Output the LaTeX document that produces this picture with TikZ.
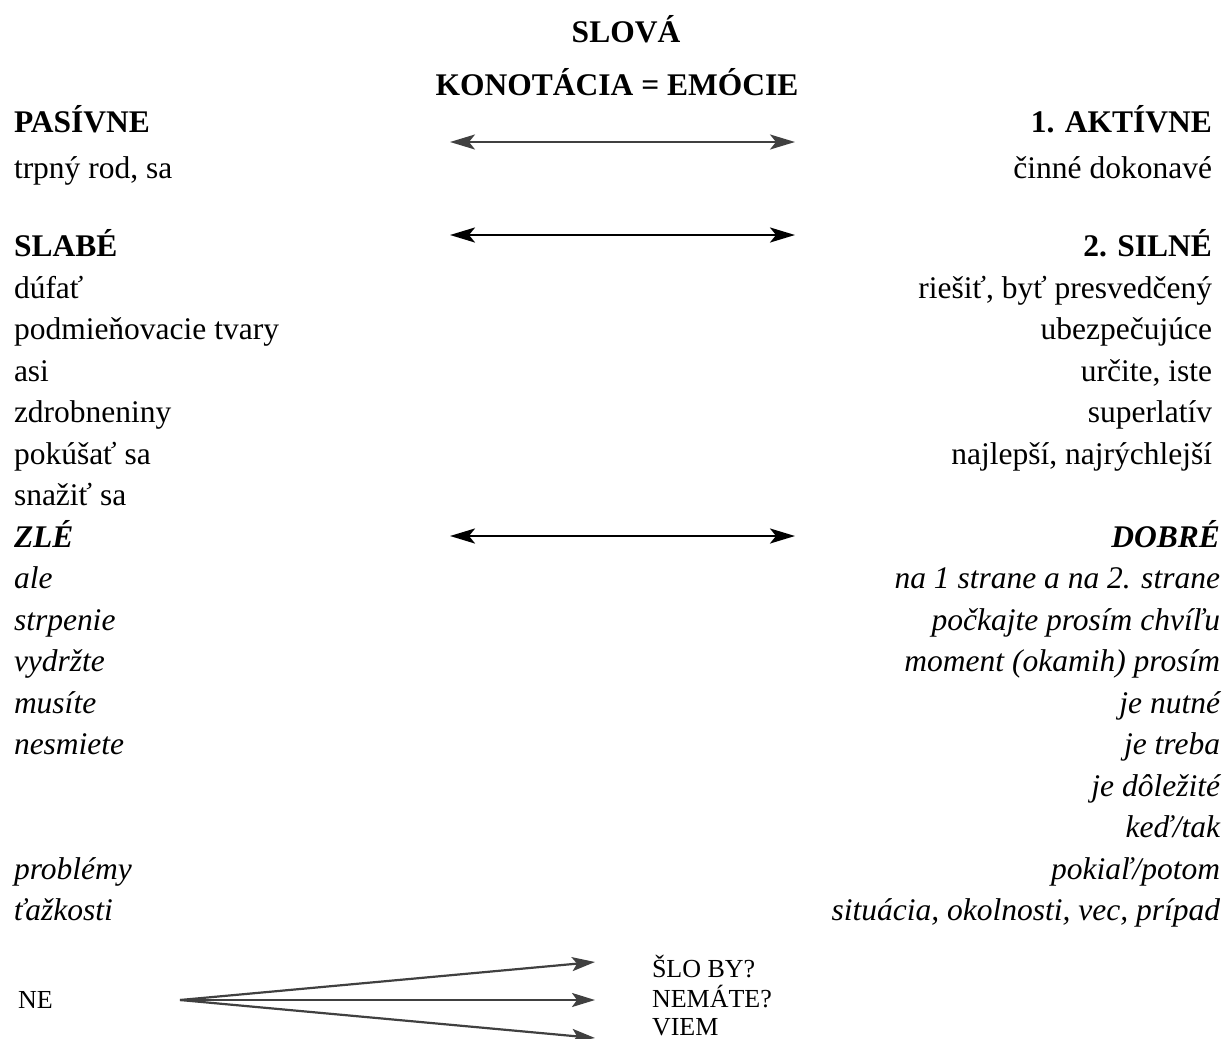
\documentclass[tikz,border=0pt]{standalone}
\usepackage{fontspec}
\setmainfont{Liberation Serif}
\usetikzlibrary{arrows.meta}
\definecolor{arrgray}{HTML}{404040}
\begin{document}
\begin{tikzpicture}[x=1pt,y=-1pt,
  txt/.style={inner sep=0pt, outer sep=0pt, font=\fontsize{31.5}{36}\selectfont},
  txtb/.style={inner sep=0pt, outer sep=0pt, font=\fontsize{31.5}{36}\selectfont\bfseries},
  txti/.style={inner sep=0pt, outer sep=0pt, font=\fontsize{31.5}{36}\selectfont\itshape},
  txtbi/.style={inner sep=0pt, outer sep=0pt, font=\fontsize{31.5}{36}\selectfont\bfseries\itshape},
  small/.style={inner sep=0pt, outer sep=0pt, font=\fontsize{26}{30}\selectfont, anchor=base west},
  lft/.style={anchor=base west},
  rgt/.style={anchor=base east},
  dblgray/.style={line width=2.2pt, draw=arrgray, {Stealth[length=25pt,width=15pt,inset=6pt]}-{Stealth[length=25pt,width=15pt,inset=6pt]}},
  dblblack/.style={line width=2.6pt, draw=black, {Stealth[length=25pt,width=15pt,inset=6pt]}-{Stealth[length=25pt,width=15pt,inset=6pt]}},
  fanarrow/.style={line width=2.2pt, draw=arrgray, -{Stealth[length=23pt,width=14pt,inset=5pt]}}
]
\useasboundingbox (0,0) rectangle (1227,1039);

% titles
\node[txtb, anchor=base] (title1) at (626,42) {SLOVÁ};
\node[txtb, anchor=base] (title2) at (617,95) {KONOTÁCIA = EMÓCIE};

% row 1
\node[txtb, lft] (pas) at (14,132) {PASÍVNE};
\node[txtb, rgt] (akt) at (1212,132) {1. AKTÍVNE};
\node[txt, lft] (pas1) at (14,178) {trpný rod, sa};
\node[txt, rgt] (akt1) at (1212,178) {činné dokonavé};

% row 2
\node[txtb, lft] (sla) at (14,256.5) {SLABÉ};
\node[txtb, rgt] (sil) at (1212,256.5) {2. SILNÉ};
\node[txt, lft] (sla1) at (14,298) {dúfať};
\node[txt, rgt] (sil1) at (1212,298) {riešiť, byť presvedčený};
\node[txt, lft] (sla2) at (14,339.5) {podmieňovacie tvary};
\node[txt, rgt] (sil2) at (1212,339.5) {ubezpečujúce};
\node[txt, lft] (sla3) at (14,381) {asi};
\node[txt, rgt] (sil3) at (1212,381) {určite, iste};
\node[txt, lft] (sla4) at (14,422.5) {zdrobneniny};
\node[txt, rgt] (sil4) at (1212,422.5) {superlatív};
\node[txt, lft] (sla5) at (14,464) {pokúšať sa};
\node[txt, rgt] (sil5) at (1212,464) {najlepší, najrýchlejší};
\node[txt, lft] (sla6) at (14,505.5) {snažiť sa};

% row 3
\node[txtbi, lft] (zle) at (14,547) {ZLÉ};
\node[txtbi, rgt] (dob) at (1220,547) {DOBRÉ};
\node[txti, lft] (zle1) at (14,588.5) {ale};
\node[txti, rgt] (dob1) at (1220,588.5) {na 1 strane a na 2. strane};
\node[txti, lft] (zle2) at (14,630) {strpenie};
\node[txti, rgt] (dob2) at (1220,630) {počkajte prosím chvíľu};
\node[txti, lft] (zle3) at (14,671.5) {vydržte};
\node[txti, rgt] (dob3) at (1220,671.5) {moment (okamih) prosím};
\node[txti, lft] (zle4) at (14,713) {musíte};
\node[txti, rgt] (dob4) at (1220,713) {je nutné};
\node[txti, lft] (zle5) at (14,754.5) {nesmiete};
\node[txti, rgt] (dob5) at (1220,754.5) {je treba};
\node[txti, rgt] (dob6) at (1220,796) {je dôležité};
\node[txti, rgt] (dob7) at (1220,837.5) {keď/tak};
\node[txti, lft] (zle6) at (14,879) {problémy};
\node[txti, rgt] (dob8) at (1220,879) {pokiaľ/potom};
\node[txti, lft] (zle7) at (14,920.5) {ťažkosti};
\node[txti, rgt] (dob9) at (1220,920.5) {situácia, okolnosti, vec, prípad};

% double arrows
\coordinate (a1l) at (450,142); \coordinate (a1r) at (795,142);
\coordinate (a2l) at (450,235); \coordinate (a2r) at (795,235);
\coordinate (a3l) at (450,536); \coordinate (a3r) at (795,536);
\draw[dblgray] (a1l) -- (a1r);
\draw[dblblack] (a2l) -- (a2r);
\draw[dblblack] (a3l) -- (a3r);

% bottom fan
\node[small] (ne) at (18,1008) {NE};
\node[small] (slo) at (652,977) {ŠLO BY?};
\node[small] (nem) at (652,1007) {NEMÁTE?};
\node[small] (vie) at (652,1035) {VIEM};
\coordinate (fan) at (180,1000);
\coordinate (t1) at (595,962);
\coordinate (t2) at (595,1000);
\coordinate (t3) at (595,1038);
\draw[fanarrow] (fan) -- (t1);
\draw[fanarrow] (fan) -- (t2);
\draw[fanarrow] (fan) -- (t3);
\end{tikzpicture}
\end{document}
